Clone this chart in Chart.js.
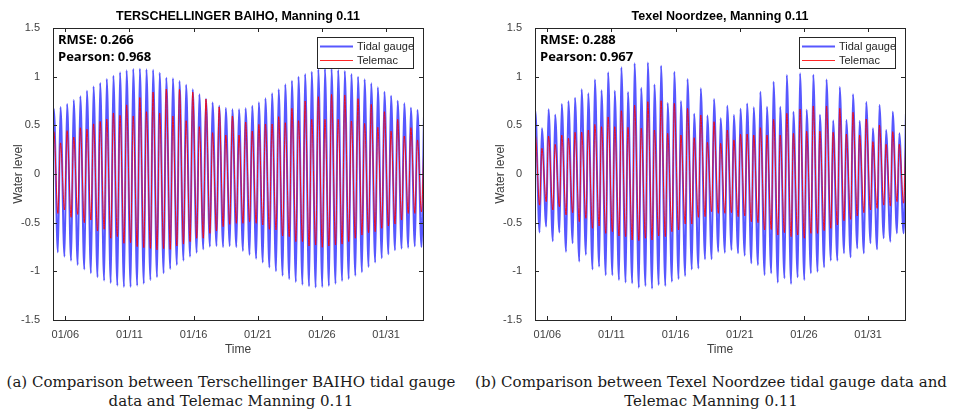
<!DOCTYPE html>
<html>
<head>
<meta charset="utf-8">
<script src="https://cdn.jsdelivr.net/npm/chart.js@4.4.1/dist/chart.umd.min.js"></script>
<style>
  body { margin: 0; background: #fff; width: 954px; height: 417px; position: relative; overflow: hidden; }
  .panel { position: absolute; top: 0; width: 472px; height: 365px; }
  .caption { position: absolute; font-family: "DejaVu Serif", serif; font-size: 15px; line-height: 19px;
             color: #1a1a1a; text-align: center; white-space: nowrap; }
</style>
</head>
<body>
<div class="panel" style="left:0"><canvas id="chartA" width="472" height="365"></canvas></div>
<div class="panel" style="left:482px"><canvas id="chartB" width="472" height="365"></canvas></div>
<div class="caption" style="left:0; width:462px; top:373px">(a) Comparison between Terschellinger BAIHO tidal gauge<br>data and Telemac Manning 0.11</div>
<div class="caption" style="left:470px; width:482px; top:373px">(b) Comparison between Texel Noordzee tidal gauge data and<br>Telemac Manning 0.11</div>
<script>
// time axis in days of January (5.5 = 5 Jan 12:00)
const xMin = 5.04;
const xMax = 33.875;
const tickDays = [6, 11, 16, 21, 26, 31];
const tickLabels = ['01/06', '01/11', '01/16', '01/21', '01/26', '01/31'];
const yTicks = [-1.5, -1, -0.5, 0, 0.5, 1, 1.5];
const yTickLabels = ['-1.5', '-1', '-0.5', '0', '0.5', '1', '1.5'];

// Terschellinger BAIHO: high / low waters (m). lows[0] is the low before the first high,
// highs[56] the high after the last low.
const baihoFirstHigh = 5.109;
const baihoPeriod = 0.5152;
const baihoLowLag = 0.31;
const baihoGaugeHighs = [0.668, 0.688, 0.72, 0.76, 0.80, 0.856, 0.90, 0.935, 0.976, 1.01, 1.045, 1.065, 1.08, 1.082,
  1.075, 1.07, 1.04, 0.99, 0.983, 0.955, 0.918, 0.87, 0.819, 0.774, 0.735, 0.70, 0.678, 0.664, 0.664, 0.675, 0.70,
  0.737, 0.777, 0.829, 0.87, 0.921, 0.959, 1.0, 1.027, 1.051, 1.075, 1.079, 1.079, 1.068, 1.058, 1.027, 1.0, 0.973,
  0.932, 0.891, 0.846, 0.805, 0.753, 0.726, 0.681, 0.658, 0.66];
const baihoGaugeLows = [-0.76, -0.805, -0.85, -0.89, -0.935, -0.98, -1.02, -1.06, -1.096, -1.12, -1.147, -1.16, -1.16,
  -1.147, -1.127, -1.09, -1.06, -1.02, -0.976, -0.935, -0.89, -0.85, -0.81, -0.774, -0.747, -0.74, -0.75, -0.74, -0.75,
  -0.79, -0.83, -0.87, -0.91, -0.96, -1.0, -1.045, -1.08, -1.11, -1.137, -1.154, -1.165, -1.16, -1.15, -1.127, -1.10,
  -1.08, -1.045, -1.01, -0.955, -0.91, -0.866, -0.825, -0.784, -0.767, -0.757, -0.743, -0.75];
const baihoTelemacHighs = [0.435, 0.32, 0.445, 0.38, 0.475, 0.46, 0.515, 0.54, 0.565, 0.627, 0.603, 0.71, 0.596, 0.785,
  0.64, 0.842, 0.627, 0.873, 0.596, 0.87, 0.548, 0.842, 0.486, 0.77, 0.425, 0.688, 0.40, 0.596, 0.40, 0.534, 0.44,
  0.51, 0.514, 0.514, 0.589, 0.527, 0.675, 0.548, 0.75, 0.562, 0.794, 0.562, 0.819, 0.562, 0.812, 0.545, 0.774, 0.52,
  0.716, 0.48, 0.64, 0.44, 0.562, 0.39, 0.476, 0.35, 0.40];
const baihoTelemacLows = [-0.40, -0.405, -0.37, -0.445, -0.415, -0.50, -0.473, -0.586, -0.568, -0.66, -0.644, -0.712,
  -0.706, -0.747, -0.757, -0.764, -0.78, -0.767, -0.774, -0.74, -0.72, -0.695, -0.66, -0.66, -0.61, -0.586, -0.541,
  -0.517, -0.507, -0.507, -0.49, -0.507, -0.524, -0.568, -0.575, -0.637, -0.644, -0.695, -0.695, -0.74, -0.73, -0.753,
  -0.74, -0.73, -0.72, -0.695, -0.66, -0.627, -0.603, -0.593, -0.558, -0.534, -0.514, -0.473, -0.405, -0.405, -0.39];

// Texel Noordzee
const texelFirstHigh = 5.0625;
const texelPeriod = 0.5158;
const texelLowLag = 0.335;
const texelGaugeHighs = [0.652, 0.47, 0.665, 0.61, 0.72, 0.748, 0.784, 0.87, 0.829, 0.97, 0.86, 1.045, 0.855, 1.096,
  0.842, 1.137, 0.885, 1.145, 0.92, 1.113, 0.73, 1.05, 0.75, 0.976, 0.62, 0.88, 0.60, 0.77, 0.572, 0.70, 0.606, 0.67,
  0.725, 0.685, 0.845, 0.69, 0.949, 0.69, 1.017, 0.64, 1.034, 0.66, 1.02, 0.61, 0.972, 0.55, 0.893, 0.555, 0.82, 0.545,
  0.74, 0.47, 0.709, 0.452, 0.64, 0.418, 0.62];
const texelGaugeLows = [-0.55, -0.60, -0.54, -0.69, -0.60, -0.80, -0.712, -0.90, -0.83, -0.98, -0.952, -1.04, -1.04,
  -1.089, -1.116, -1.123, -1.168, -1.15, -1.178, -1.14, -1.15, -1.106, -1.079, -1.048, -0.98, -0.97, -0.876, -0.876,
  -0.80, -0.81, -0.78, -0.815, -0.84, -0.918, -0.935, -1.038, -1.02, -1.116, -1.072, -1.13, -1.062, -1.089, -1.02,
  -1.004, -0.959, -0.89, -0.89, -0.815, -0.856, -0.764, -0.815, -0.712, -0.774, -0.66, -0.695, -0.61, -0.61];
const texelTelemacHighs = [0.40, 0.264, 0.39, 0.305, 0.40, 0.367, 0.428, 0.43, 0.452, 0.51, 0.486, 0.586, 0.486, 0.65,
  0.48, 0.709, 0.47, 0.743, 0.452, 0.753, 0.418, 0.726, 0.40, 0.675, 0.373, 0.606, 0.325, 0.537, 0.315, 0.452, 0.35,
  0.408, 0.41, 0.40, 0.476, 0.40, 0.562, 0.40, 0.624, 0.418, 0.668, 0.44, 0.699, 0.44, 0.699, 0.428, 0.675, 0.41,
  0.634, 0.40, 0.565, 0.332, 0.503, 0.305, 0.435, 0.305, 0.42];
const texelTelemacLows = [-0.30, -0.32, -0.284, -0.37, -0.336, -0.42, -0.397, -0.49, -0.455, -0.558, -0.534, -0.61,
  -0.593, -0.637, -0.644, -0.678, -0.685, -0.66, -0.678, -0.637, -0.644, -0.593, -0.575, -0.514, -0.514, -0.445,
  -0.438, -0.387, -0.404, -0.404, -0.397, -0.438, -0.43, -0.49, -0.50, -0.575, -0.57, -0.627, -0.603, -0.644, -0.627,
  -0.66, -0.61, -0.61, -0.582, -0.558, -0.524, -0.48, -0.466, -0.43, -0.397, -0.37, -0.353, -0.32, -0.33, -0.284, -0.30];

const axisColor = '#262626';
const labelColor = '#404040';

// interleave lows and highs into one time series
function tideSeries(highs, lows, firstHigh, period, lowLag) {
  const pts = [];
  for (let j = 0; j < highs.length; j++) {
    pts.push({ x: firstHigh + (j - 1) * period + lowLag, y: lows[j] });
    pts.push({ x: firstHigh + j * period, y: highs[j] });
  }
  return pts;
}

// box, inward ticks, title, statistics and legend drawn in the MATLAB figure style
const figureDecor = {
  id: 'figureDecor',
  afterDraw(chart, args, opts) {
    const { ctx, chartArea: a, scales: { x, y } } = chart;
    ctx.save();
    ctx.strokeStyle = axisColor;
    ctx.lineWidth = 1;
    ctx.strokeRect(a.left + 0.5, a.top + 0.5, a.right - a.left, a.bottom - a.top);
    ctx.beginPath();
    tickDays.forEach(d => {
      const px = Math.round(x.getPixelForValue(d)) + 0.5;
      ctx.moveTo(px, a.bottom); ctx.lineTo(px, a.bottom - 4);
      ctx.moveTo(px, a.top); ctx.lineTo(px, a.top + 4);
    });
    yTicks.forEach(v => {
      const py = Math.round(y.getPixelForValue(v)) + 0.5;
      ctx.moveTo(a.left, py); ctx.lineTo(a.left + 4, py);
      ctx.moveTo(a.right, py); ctx.lineTo(a.right - 4, py);
    });
    ctx.stroke();

    ctx.fillStyle = '#000';
    ctx.font = 'bold 12.5px "Liberation Sans", Arial, sans-serif';
    ctx.textAlign = 'center';
    ctx.textBaseline = 'middle';
    ctx.fillText(opts.title, (a.left + a.right) / 2, 17);

    ctx.textAlign = 'left';
    ctx.textBaseline = 'alphabetic';
    ctx.font = 'bold 13px "Open Sans", sans-serif';
    ctx.fillText('RMSE: ' + opts.rmse, a.left + 5, a.top + 16);
    ctx.fillText('Pearson: ' + opts.pearson, a.left + 5, a.top + 33);

    // legend
    const bw = 96, bh = 31;
    const bx = a.right - 10 - bw, by = a.top + 9;
    ctx.fillStyle = '#fff';
    ctx.fillRect(bx, by, bw, bh);
    ctx.strokeStyle = axisColor;
    ctx.strokeRect(bx + 0.5, by + 0.5, bw, bh);
    ctx.font = '11px "Liberation Sans", Arial, sans-serif';
    ctx.textBaseline = 'middle';
    chart.data.datasets.forEach((ds, i) => {
      const ly = by + 9.5 + i * 14;
      ctx.strokeStyle = ds.borderColor;
      ctx.lineWidth = ds.borderWidth;
      ctx.beginPath();
      ctx.moveTo(bx + 3, ly); ctx.lineTo(bx + 36, ly);
      ctx.stroke();
      ctx.fillStyle = axisColor;
      ctx.fillText(ds.label, bx + 40, ly);
    });
    ctx.restore();
  }
};

function makePanel(id, title, rmse, pearson, gauge, telemac) {
  new Chart(document.getElementById(id), {
    type: 'line',
    data: {
      datasets: [
        { label: 'Tidal gauge', data: gauge, borderColor: 'rgba(0, 0, 255, 0.66)', borderWidth: 2,
          pointRadius: 0, cubicInterpolationMode: 'monotone', clip: 0, order: 1 },
        { label: 'Telemac', data: telemac, borderColor: 'rgba(255, 0, 0, 0.85)', borderWidth: 1,
          pointRadius: 0, cubicInterpolationMode: 'monotone', clip: 0, order: 0 }
      ]
    },
    plugins: [figureDecor],
    options: {
      responsive: false,
      animation: false,
      events: [],
      layout: { padding: { top: 28, right: 49, bottom: 0, left: 0 } },
      plugins: {
        legend: { display: false },
        tooltip: { enabled: false },
        figureDecor: { title: title, rmse: rmse, pearson: pearson }
      },
      scales: {
        x: {
          type: 'linear',
          min: xMin,
          max: xMax,
          afterBuildTicks: s => { s.ticks = tickDays.map(v => ({ value: v })); },
          afterFit: s => { s.height = 45; },
          grid: { display: false },
          border: { display: false },
          ticks: {
            autoSkip: false, maxRotation: 0, padding: 0, color: labelColor,
            font: { family: '"Liberation Sans", Arial, sans-serif', size: 11 },
            callback: (v, i) => tickLabels[i]
          },
          title: {
            display: true, text: 'Time', color: labelColor, padding: { top: 0, bottom: 8 },
            font: { family: '"Liberation Sans", Arial, sans-serif', size: 12 }
          }
        },
        y: {
          min: -1.5,
          max: 1.5,
          afterBuildTicks: s => { s.ticks = yTicks.map(v => ({ value: v })); },
          afterFit: s => { s.width = 53; },
          grid: { display: false },
          border: { display: false },
          ticks: {
            padding: 5, color: labelColor,
            font: { family: '"Liberation Sans", Arial, sans-serif', size: 11 },
            callback: (v, i) => yTickLabels[i]
          },
          title: {
            display: true, text: 'Water level', color: labelColor, padding: { top: 11, bottom: 0 },
            font: { family: '"Liberation Sans", Arial, sans-serif', size: 12 }
          }
        }
      }
    }
  });
}

makePanel('chartA', 'TERSCHELLINGER BAIHO, Manning 0.11', '0.266', '0.968',
  tideSeries(baihoGaugeHighs, baihoGaugeLows, baihoFirstHigh, baihoPeriod, baihoLowLag),
  tideSeries(baihoTelemacHighs, baihoTelemacLows, baihoFirstHigh, baihoPeriod, baihoLowLag));

makePanel('chartB', 'Texel Noordzee, Manning 0.11', '0.288', '0.967',
  tideSeries(texelGaugeHighs, texelGaugeLows, texelFirstHigh, texelPeriod, texelLowLag),
  tideSeries(texelTelemacHighs, texelTelemacLows, texelFirstHigh, texelPeriod, texelLowLag));
</script>
</body>
</html>
